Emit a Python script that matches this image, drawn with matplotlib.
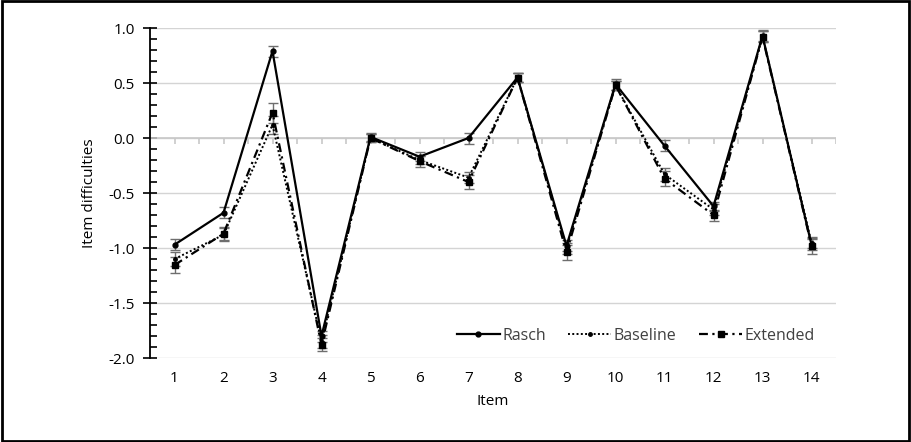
import numpy as np
import matplotlib
matplotlib.use("Agg")
import matplotlib.pyplot as plt
from matplotlib.patches import Rectangle

plt.rcParams['font.family'] = ['Open Sans', 'DejaVu Sans']

items = np.arange(1, 15)
rasch = [-0.97, -0.68, 0.79, -1.80, 0.01, -0.17, 0.00, 0.55, -0.98, 0.49, -0.07, -0.62, 0.93, -0.97]
rasch_err = [0.05, 0.05, 0.05, 0.05, 0.04, 0.04, 0.05, 0.04, 0.05, 0.05, 0.05, 0.04, 0.05, 0.05]
baseline = [-1.10, -0.88, 0.12, -1.85, 0.00, -0.20, -0.36, 0.55, -1.00, 0.48, -0.33, -0.65, 0.92, -0.95]
baseline_err = [0.06, 0.06, 0.08, 0.06, 0.04, 0.04, 0.05, 0.04, 0.05, 0.04, 0.06, 0.05, 0.05, 0.05]
extended = [-1.155, -0.87, 0.23, -1.88, 0.00, -0.21, -0.40, 0.55, -1.04, 0.48, -0.37, -0.70, 0.92, -0.98]
extended_err = [0.07, 0.06, 0.09, 0.06, 0.04, 0.05, 0.06, 0.04, 0.07, 0.04, 0.07, 0.05, 0.05, 0.07]

fig = plt.figure(figsize=(9.11, 4.42), dpi=100)
fig.patches.append(Rectangle((0.002, 0.003), 0.996, 0.994, transform=fig.transFigure,
                             fill=False, edgecolor="black", linewidth=2))
ax = fig.add_axes([150 / 911, 84 / 442, 686 / 911, 330 / 442])

ebkw = dict(fmt="none", ecolor="#6e6e6e", elinewidth=1, capsize=3.5, capthick=1, zorder=2)
ax.errorbar(items, rasch, yerr=rasch_err, **ebkw)
ax.errorbar(items, baseline, yerr=baseline_err, **ebkw)
ax.errorbar(items, extended, yerr=extended_err, **ebkw)

ax.plot(items, rasch, color="black", lw=1.6, marker="o", ms=3.5, label="Rasch", zorder=4)
ax.plot(items, baseline, color="black", lw=1.4, ls=(0, (1, 1.2)), marker="o", ms=2.5,
        label="Baseline", zorder=3)
ax.plot(items, extended, color="black", lw=1.6, ls=(0, (4, 2, 1, 2)), marker="s", ms=4,
        label="Extended", zorder=3)

ax.set_xlim(0.5, 14.5)
ax.set_ylim(-2.0, 1.0)
ax.set_yticks(np.arange(-2.0, 1.01, 0.5))
ax.set_yticklabels([f"{v:.1f}" for v in np.arange(-2.0, 1.01, 0.5)], fontsize=11)
ax.set_yticks(np.arange(-2.0, 1.01, 0.1), minor=True)
ax.tick_params(axis="y", which="major", direction="inout", length=10, width=1.2, pad=6)
ax.tick_params(axis="y", which="minor", direction="in", length=5, width=1.2)
ax.grid(axis="y", color="#d4d4d4", lw=1)
ax.set_axisbelow(True)

ax.set_xticks(items)
ax.set_xticklabels([str(i) for i in items], fontsize=11)
ax.tick_params(axis="x", length=0, pad=9)

for s in ["top", "right", "bottom"]:
    ax.spines[s].set_visible(False)
ax.spines["left"].set_linewidth(1.3)

# category axis at zero with tick marks at items and between them
ax.axhline(0, color="#c8c8c8", lw=1.2, zorder=1)
ax.vlines(np.arange(1, 14.51, 0.5), -0.05, 0, color="#c8c8c8", lw=1.2, zorder=1)

ax.set_xlabel("Item", fontsize=11, labelpad=6)
ax.set_ylabel("Item difficulties", fontsize=11, labelpad=8)

leg = ax.legend(loc="lower right", bbox_to_anchor=(0.99, 0.0), ncol=3, frameon=False,
                fontsize=11.5, handlelength=2.7, columnspacing=1.4, handletextpad=0.15)
for t in leg.get_texts():
    t.set_color("#404040")

fig.savefig("out.png", dpi=100)
